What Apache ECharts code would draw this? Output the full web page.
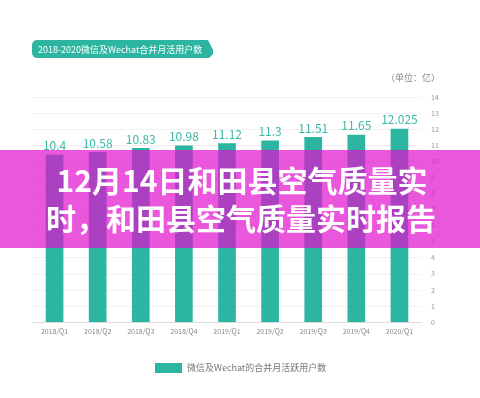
<!DOCTYPE html>
<html>
<head>
<meta charset="utf-8">
<script src="https://cdn.jsdelivr.net/npm/echarts@6/dist/echarts.min.js"></script>
<style>
html,body{margin:0;padding:0;background:#fff;}
#chart{width:480px;height:398px;}
</style>
</head>
<body>
<div id="chart"></div>
<script>
var categories = ['2018/Q1','2018/Q2','2018/Q3','2018/Q4','2019/Q1','2019/Q2','2019/Q3','2019/Q4','2020/Q1'];
var values = [10.4, 10.58, 10.83, 10.98, 11.12, 11.3, 11.51, 11.65, 12.025];
var valueLabels = ['10.4','10.58','10.83','10.98','11.12','11.3','11.51','11.65','12.025'];
var yMin = 0, yMax = 14, yStep = 1;
var seriesName = '微信及Wechat的合并月活跃用户数';
var chartTitle = '2018-2020微信及Wechat合并月活用户数';
var unitText = '（单位：亿）';
var overlayLine1 = '12月14日和田县空气质量实';
var overlayLine2 = '时，和田县空气质量实时报告';

var teal = '#2cb5a0';
var font = '"Noto Sans CJK SC", "Noto Sans", sans-serif';
var chart = echarts.init(document.getElementById('chart'));
chart.setOption({
  animation: false,
  backgroundColor: '#fff',
  textStyle: { fontFamily: font },
  grid: { left: 33, right: 59, top: 97, bottom: 76, containLabel: false },
  legend: {
    data: [seriesName],
    left: 150, top: 358,
    itemWidth: 27, itemHeight: 10, itemGap: 6,
    icon: 'rect',
    textStyle: { fontSize: 9, color: '#777', fontFamily: font }
  },
  xAxis: {
    type: 'category',
    data: categories,
    axisLine: { show: true, lineStyle: { color: '#ddd', width: 1 } },
    axisTick: { show: false },
    axisLabel: { fontSize: 7, color: '#888', margin: 6 }
  },
  yAxis: {
    type: 'value',
    position: 'right',
    min: yMin, max: yMax, interval: yStep,
    axisLine: { show: false },
    axisTick: { show: false },
    axisLabel: { fontSize: 7, color: '#999', margin: 10, align: 'left' },
    splitLine: { show: true, lineStyle: { color: '#f0f0f0', width: 1 } }
  },
  series: [{
    name: seriesName,
    type: 'bar',
    data: values,
    barWidth: '41%',
    itemStyle: { color: teal },
    label: {
      show: true, position: 'top', distance: 3,
      fontSize: 12, color: '#3cb8a5',
      formatter: function (p) { return valueLabels[p.dataIndex]; }
    }
  }],
  graphic: [
    {
      type: 'group', z: 50,
      children: [
        { type: 'rect', shape: { x: 32, y: 40, width: 176, height: 18, r: 5 }, style: { fill: teal } },
        { type: 'polygon', shape: { points: [[200,40],[208,40],[213,50],[213,54],[209,58],[200,58]] }, style: { fill: teal } },
        { type: 'text', style: { text: chartTitle, x: 38, y: 49.5, textVerticalAlign: 'middle', fill: '#fff', font: '9px ' + font } }
      ]
    },
    { type: 'text', z: 50, style: { text: unitText, x: 440, y: 78, textAlign: 'right', textVerticalAlign: 'middle', fill: '#888', font: '9px ' + font } },
    { type: 'rect', z: 100, shape: { x: 0, y: 150, width: 480, height: 98 }, style: { fill: 'rgba(225,16,205,0.7)' } },
    { type: 'text', z: 101, style: { text: overlayLine1, x: 242, y: 181, textAlign: 'center', textVerticalAlign: 'middle', fill: '#fff', font: 'bold 30px ' + font } },
    { type: 'text', z: 101, style: { text: overlayLine2, x: 241, y: 219, textAlign: 'center', textVerticalAlign: 'middle', fill: '#fff', font: 'bold 30px ' + font } }
  ]
});
</script>
</body>
</html>
